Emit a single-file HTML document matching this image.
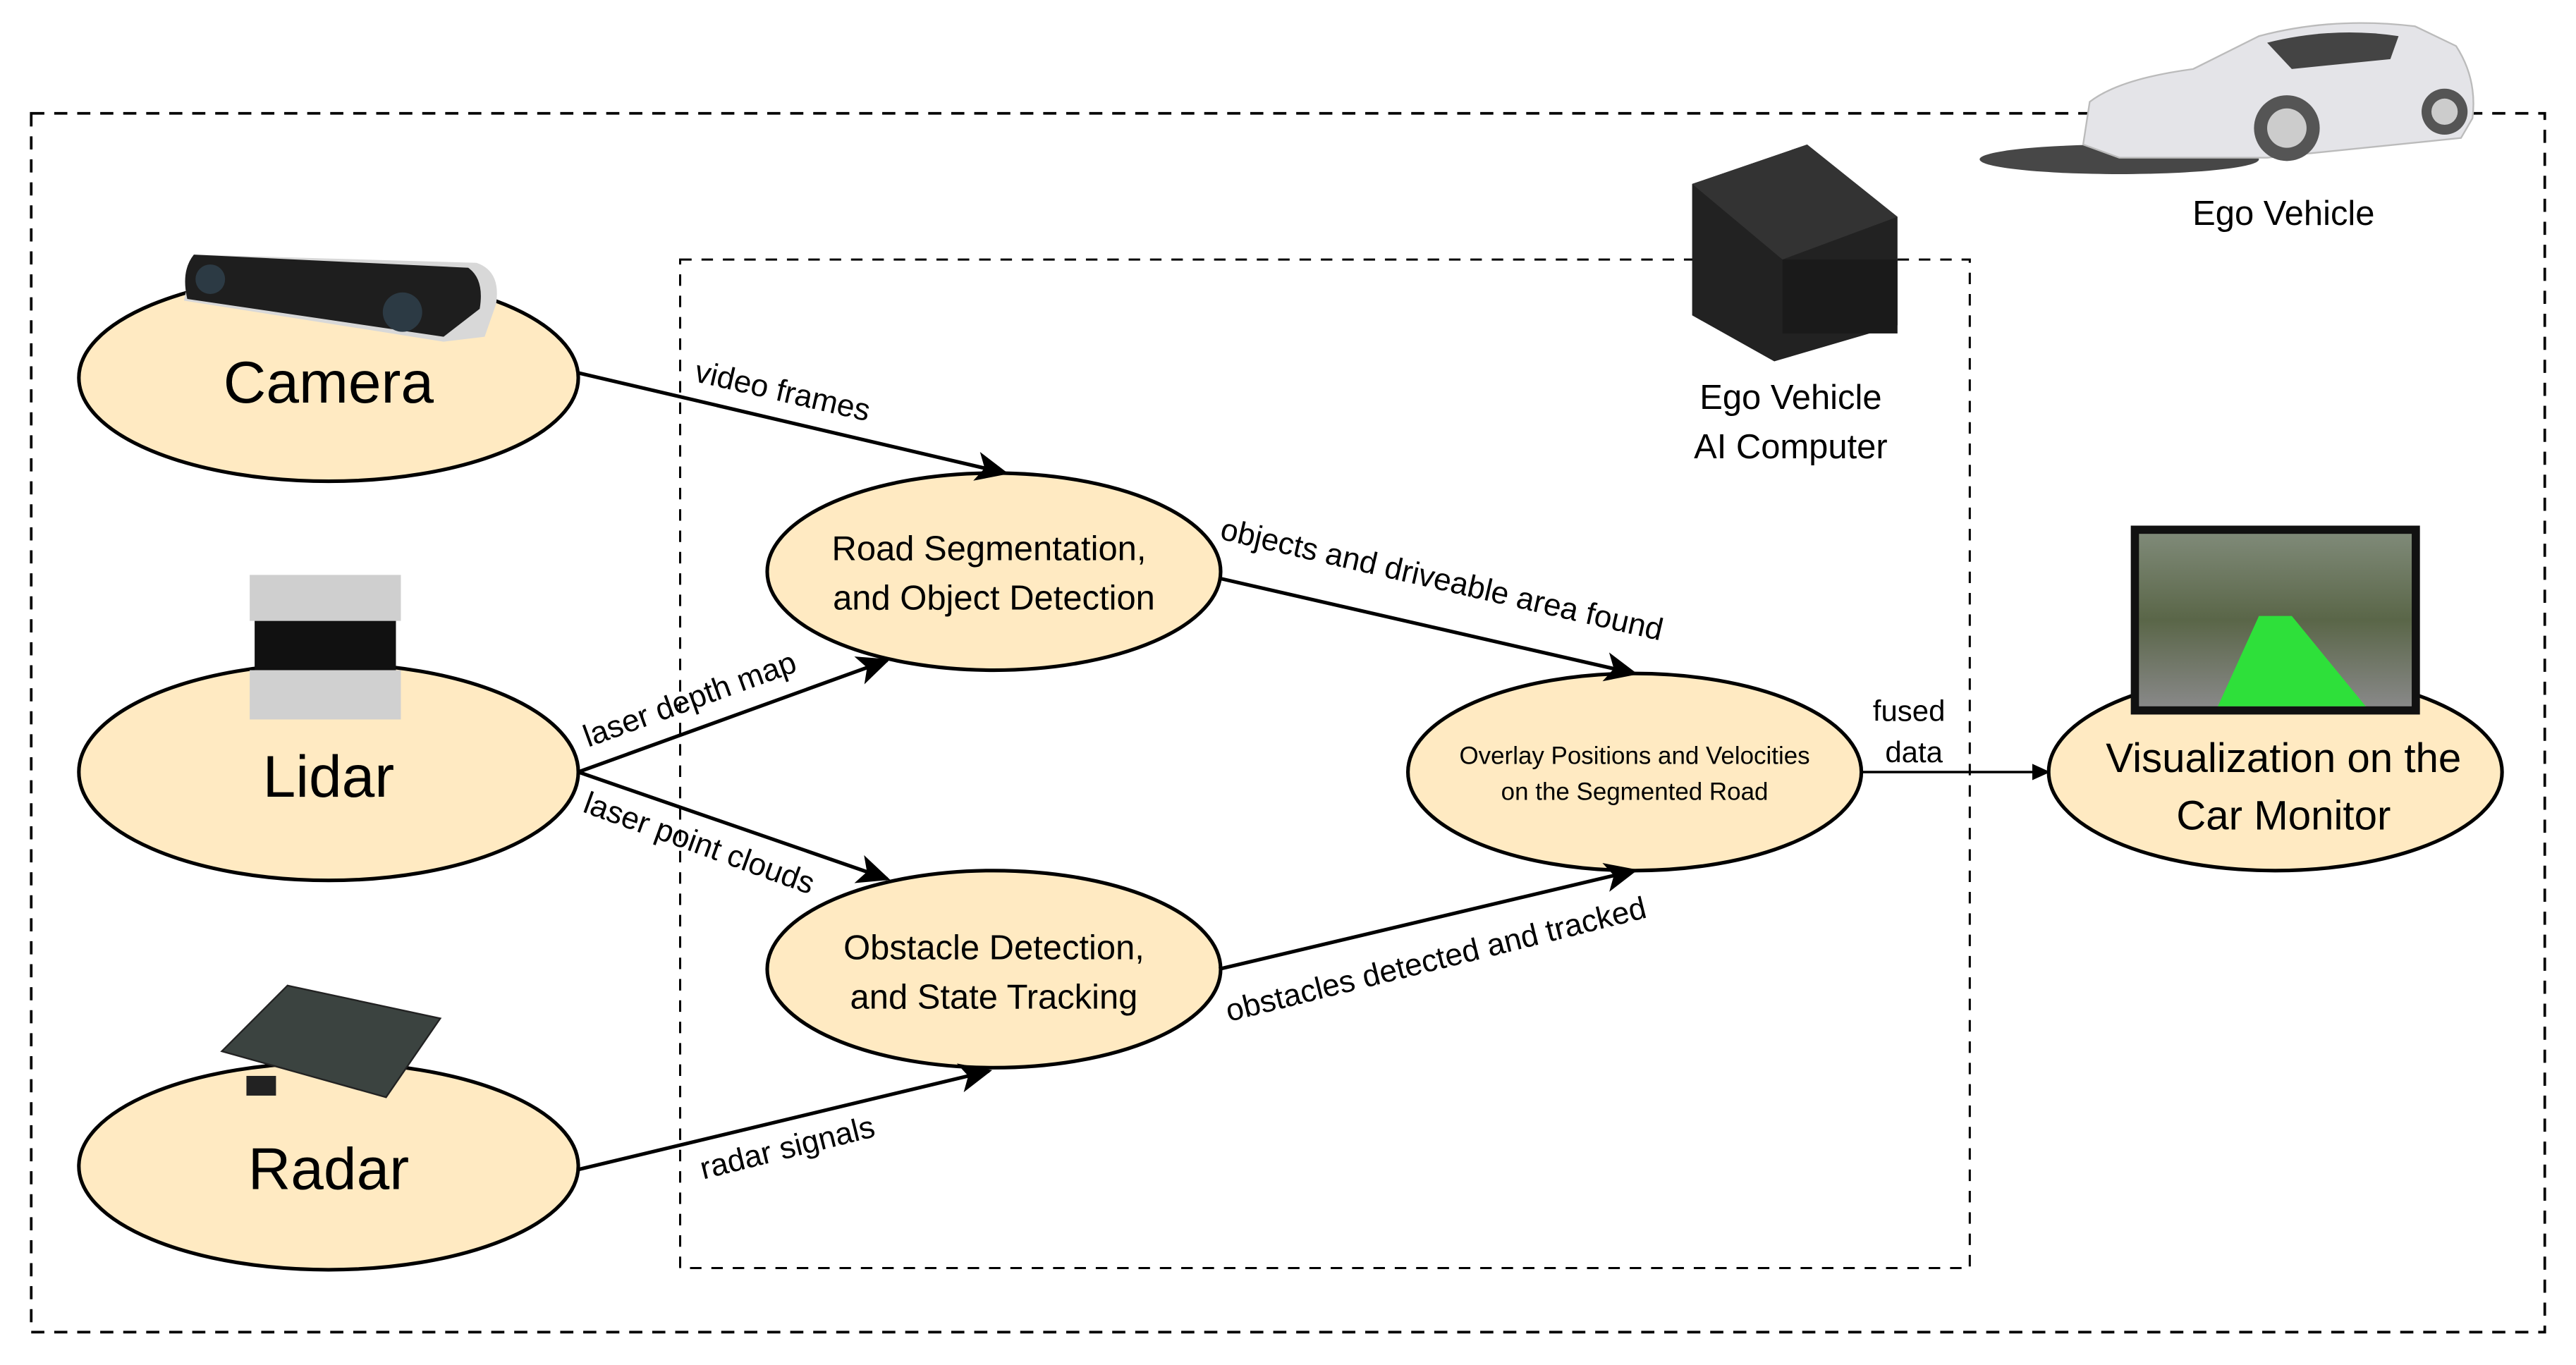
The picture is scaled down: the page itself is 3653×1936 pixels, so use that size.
<!DOCTYPE html>
<html><head><meta charset="utf-8"><style>
html,body{margin:0;padding:0;background:#fff;}
svg{display:block;}
text{font-family:"Liberation Sans","Noto Sans CJK KR",sans-serif;fill:#000;}
</style></head><body>
<svg width="3653" height="1936" viewBox="0 0 1568 831" preserveAspectRatio="none" xmlns="http://www.w3.org/2000/svg">
<defs>
<marker id="ah" markerWidth="22" markerHeight="18" refX="18" refY="9" orient="auto" markerUnits="userSpaceOnUse">
<path d="M0,0 L20,9 L0,18 L5,9 Z" fill="#000"/></marker>
<marker id="ahs" markerWidth="12" markerHeight="12" refX="11" refY="6" orient="auto" markerUnits="userSpaceOnUse">
<path d="M0,1 L11,6 L0,11 Z" fill="#000"/></marker>
<linearGradient id="scr" x1="0" y1="0" x2="0" y2="1"><stop offset="0" stop-color="#7f8a78"/><stop offset="0.5" stop-color="#5a6648"/><stop offset="1" stop-color="#888"/></linearGradient>
</defs>
<rect x="19" y="69" width="1530" height="742" fill="none" stroke="#000" stroke-width="1.6" stroke-dasharray="8,6"/>
<rect x="414" y="158" width="785" height="614" fill="none" stroke="#000" stroke-width="1.3" stroke-dasharray="7,6"/>

<!-- car -->
<ellipse cx="1290" cy="97" rx="85" ry="9" fill="#333" opacity="0.9"/>
<path d="M1268,88 L1272,62 Q1290,48 1335,42 L1375,22 Q1420,10 1470,16 L1495,28 Q1508,48 1505,72 L1498,84 L1380,96 L1290,96 Z" fill="#e4e4e8" stroke="#bbb"/>
<path d="M1380,26 Q1420,16 1460,22 L1455,36 L1395,42 Z" fill="#444"/>
<circle cx="1392" cy="78" r="20" fill="#555"/><circle cx="1392" cy="78" r="12" fill="#ccc"/>
<circle cx="1488" cy="68" r="14" fill="#555"/><circle cx="1488" cy="68" r="8" fill="#ccc"/>
<text x="1390" y="137" font-size="21" text-anchor="middle">Ego Vehicle</text>

<!-- nvidia box -->
<path d="M1030,112 L1100,88 L1155,132 L1155,198 L1080,220 L1030,192 Z" fill="#222"/>
<path d="M1030,112 L1100,88 L1155,132 L1085,158 Z" fill="#333"/>
<rect x="1085" y="158" width="70" height="45" fill="#1a1a1a"/>
<text x="1090" y="249" font-size="21" text-anchor="middle">Ego Vehicle</text>
<text x="1090" y="279" font-size="21" text-anchor="middle">AI Computer</text>

<g fill="#ffeac2" stroke="#000" stroke-width="2.2">
<ellipse cx="200" cy="230" rx="152" ry="63"/>
<ellipse cx="200" cy="470" rx="152" ry="66"/>
<ellipse cx="200" cy="710" rx="152" ry="63"/>
<ellipse cx="605" cy="348" rx="138" ry="60"/>
<ellipse cx="605" cy="590" rx="138" ry="60"/>
<ellipse cx="995" cy="470" rx="138" ry="60"/>
<ellipse cx="1385" cy="470" rx="138" ry="60"/>
</g>

<!-- camera device -->
<path d="M118,155 L290,160 Q305,165 302,185 L295,205 L270,208 L112,183 Z" fill="#d8d8d8"/>
<path d="M118,155 L285,163 Q295,170 292,188 L270,205 L114,182 Q110,165 118,155 Z" fill="#1e1e1e"/>
<circle cx="128" cy="170" r="9" fill="#2c3a44"/><circle cx="245" cy="190" r="12" fill="#2c3a44"/>

<!-- lidar -->
<rect x="152" y="350" width="92" height="28" fill="#cfcfcf"/>
<rect x="155" y="378" width="86" height="30" fill="#111"/>
<rect x="152" y="408" width="92" height="30" fill="#d0d0d0"/>

<!-- radar -->
<path d="M135,640 L175,600 L268,620 L235,668 Z" fill="#3b4340" stroke="#222"/>
<rect x="150" y="655" width="18" height="12" fill="#222"/>

<!-- monitor -->
<rect x="1297" y="320" width="176" height="115" fill="#111"/>
<rect x="1302" y="325" width="166" height="105" fill="url(#scr)"/>
<path d="M1375,375 L1395,375 L1440,430 L1350,430 Z" fill="#2ee03a"/>

<text x="200" y="245" font-size="36" text-anchor="middle">Camera</text>
<text x="200" y="485" font-size="36" text-anchor="middle">Lidar</text>
<text x="200" y="724" font-size="36" text-anchor="middle">Radar</text>
<text x="602" y="341" font-size="21" text-anchor="middle">Road Segmentation,</text>
<text x="605" y="371" font-size="21" text-anchor="middle">and Object Detection</text>
<text x="605" y="584" font-size="21" text-anchor="middle">Obstacle Detection,</text>
<text x="605" y="614" font-size="21" text-anchor="middle">and State Tracking</text>
<text x="995" y="465" font-size="15" text-anchor="middle">Overlay Positions and Velocities</text>
<text x="995" y="487" font-size="15" text-anchor="middle">on the Segmented Road</text>
<text x="1390" y="470" font-size="25" text-anchor="middle">Visualization on the</text>
<text x="1390" y="505" font-size="25" text-anchor="middle">Car Monitor</text>

<g stroke="#000" stroke-width="2.2" fill="none">
<line x1="352" y1="227" x2="612" y2="288" marker-end="url(#ah)"/>
<line x1="352" y1="470" x2="540" y2="402" marker-end="url(#ah)"/>
<line x1="352" y1="470" x2="540" y2="535" marker-end="url(#ah)"/>
<line x1="352" y1="712" x2="602" y2="652" marker-end="url(#ah)"/>
<line x1="742" y1="352" x2="995" y2="410" marker-end="url(#ah)"/>
<line x1="742" y1="590" x2="995" y2="530" marker-end="url(#ah)"/>
</g>
<line x1="1133" y1="470" x2="1248" y2="470" stroke="#000" stroke-width="1.5" marker-end="url(#ahs)"/>

<text font-size="19" transform="translate(422,232) rotate(13)">video frames</text>
<text font-size="19" transform="translate(358,455) rotate(-20)">laser depth map</text>
<text font-size="19" transform="translate(354,494) rotate(20)">laser point clouds</text>
<text font-size="19" transform="translate(428,718) rotate(-14)">radar signals</text>
<text font-size="19" transform="translate(742,328) rotate(13)">objects and driveable area found</text>
<text font-size="19" transform="translate(748,622) rotate(-14)">obstacles detected and tracked</text>
<text x="1162" y="439" font-size="18" text-anchor="middle">fused</text>
<text x="1165" y="464" font-size="18" text-anchor="middle">data</text>
</svg>
</body></html>
